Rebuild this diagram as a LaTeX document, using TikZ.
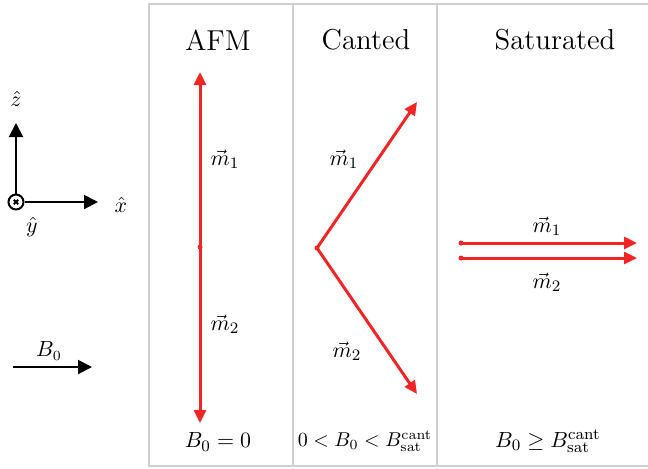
\documentclass[tikz,border=0pt]{standalone}
\usetikzlibrary{arrows.meta}
\definecolor{magred}{RGB}{240,38,38}
\definecolor{panelgrey}{RGB}{205,207,212}
\begin{document}
\begin{tikzpicture}[x=0.5pt,y=-0.5pt,
  panel/.style={draw=panelgrey,line width=1pt},
  redarrow/.style={draw=magred,line width=1.5pt,-{Triangle[length=6.5pt,width=6pt]}},
  blackarrow/.style={draw=black,line width=1pt,-{Triangle[length=7pt,width=7pt]}},
  title/.style={font=\fontsize{14.4}{17}\selectfont},
  lab/.style={font=\fontsize{11}{13}\selectfont},
  smlab/.style={font=\fontsize{10}{12}\selectfont},
  axlab/.style={font=\fontsize{10.5}{12}\selectfont},
  dotred/.style={fill=magred,circle,inner sep=0pt,minimum size=2.5pt}]
\useasboundingbox (0,0) rectangle (648,468);
% panels
\draw[panel] (648,4) -- (149,4) -- (149,466) -- (648,466);
\draw[panel] (293,4) -- (293,466);
\draw[panel] (437,4) -- (437,466);
% titles
\node[title] (tafm) at (218,40) {AFM};
\node[title] (tcant) at (366,40) {Canted};
\node[title] (tsat) at (555,40) {Saturated};
% axes
\node[draw,circle,line width=1pt,minimum size=7.5pt,inner sep=0pt] (yax) at (16,202) {};
\draw[line width=1pt] (yax.center) ++(-2.2,-2.2) -- ++(4.4,4.4) ++(-4.4,0) -- ++(4.4,-4.4);
\coordinate (ztip) at (16,123);
\coordinate (xtip) at (98,202);
\draw[blackarrow] (yax.north) -- (ztip);
\draw[blackarrow] (yax.east) -- (xtip);
\node[axlab] (zl) at (16,99) {$\hat{z}$};
\node[axlab] (xl) at (121,205) {$\hat{x}$};
\node[axlab] (yl) at (32,227) {$\hat{y}$};
% B0 arrow
\coordinate (b0s) at (13,367);
\coordinate (b0e) at (92,367);
\draw[blackarrow] (b0s) -- (b0e);
\node[axlab] (b0l) at (49,351) {$B_0$};
% AFM
\node[dotred] (afmo) at (200,247) {};
\coordinate (afm1) at (200,72);
\coordinate (afm2) at (200,423);
\draw[redarrow] (afmo.center) -- (afm1);
\draw[redarrow] (afmo.center) -- (afm2);
\node[lab] (am1) at (225,159) {$\vec{m}_1$};
\node[lab] (am2) at (225,324) {$\vec{m}_2$};
\node[lab] (ab) at (218,442) {$B_0=0$};
% Canted
\node[dotred] (co) at (317,248) {};
\coordinate (c1) at (417,102);
\coordinate (c2) at (417,394);
\draw[redarrow] (co.center) -- (c1);
\draw[redarrow] (co.center) -- (c2);
\node[lab] (cm1) at (344,159) {$\vec{m}_1$};
\node[lab] (cm2) at (347,351) {$\vec{m}_2$};
\node[smlab] (cb) at (365,441) {$0<B_0<B_{\mathrm{sat}}^{\mathrm{cant}}$};
% Saturated
\node[dotred] (so1) at (461,243) {};
\node[dotred] (so2) at (461,258) {};
\coordinate (s1) at (637,243);
\coordinate (s2) at (637,258);
\draw[redarrow] (so1.center) -- (s1);
\draw[redarrow] (so2.center) -- (s2);
\node[lab] (sm1) at (547,226) {$\vec{m}_1$};
\node[lab] (sm2) at (547,282) {$\vec{m}_2$};
\node[lab] (sb) at (548,441) {$B_0\geq B_{\mathrm{sat}}^{\mathrm{cant}}$};
\end{tikzpicture}
\end{document}
